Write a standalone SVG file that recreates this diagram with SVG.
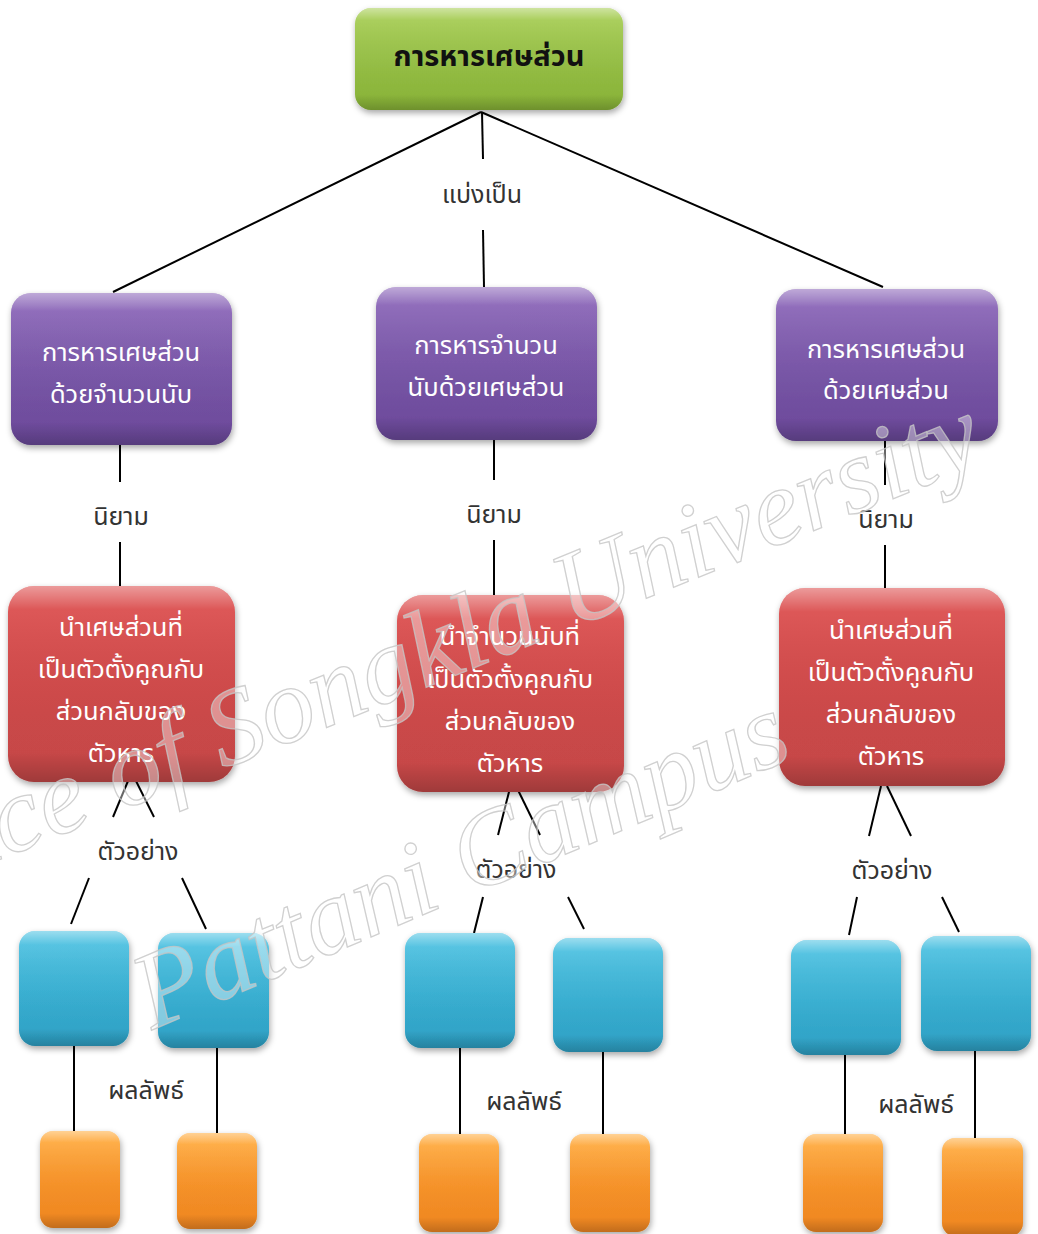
<svg xmlns="http://www.w3.org/2000/svg" width="1038" height="1234" viewBox="0 0 1038 1234">
  <defs>
    <linearGradient id="gGreen" x1="0" y1="0" x2="0" y2="1">
      <stop offset="0" stop-color="#a6cd52"/>
      <stop offset="0.5" stop-color="#98c246"/>
      <stop offset="1" stop-color="#86b036"/>
    </linearGradient>
    <linearGradient id="gPurple" x1="0" y1="0" x2="0" y2="1">
      <stop offset="0" stop-color="#8a64b8"/>
      <stop offset="0.5" stop-color="#7a57aa"/>
      <stop offset="1" stop-color="#6a4898"/>
    </linearGradient>
    <linearGradient id="gRed" x1="0" y1="0" x2="0" y2="1">
      <stop offset="0" stop-color="#dc4848"/>
      <stop offset="0.5" stop-color="#d24a4a"/>
      <stop offset="1" stop-color="#c24646"/>
    </linearGradient>
    <linearGradient id="gBlue" x1="0" y1="0" x2="0" y2="1">
      <stop offset="0" stop-color="#4cc2e2"/>
      <stop offset="0.5" stop-color="#3ab3d6"/>
      <stop offset="1" stop-color="#2d9ec2"/>
    </linearGradient>
    <linearGradient id="gOrange" x1="0" y1="0" x2="0" y2="1">
      <stop offset="0" stop-color="#ffac3e"/>
      <stop offset="0.5" stop-color="#fb9529"/>
      <stop offset="1" stop-color="#ec8420"/>
    </linearGradient>
    <linearGradient id="gShine" x1="0" y1="0" x2="0" y2="1">
      <stop offset="0" stop-color="#ffffff" stop-opacity="0.45"/>
      <stop offset="0.12" stop-color="#ffffff" stop-opacity="0.08"/>
      <stop offset="0.85" stop-color="#000000" stop-opacity="0"/>
      <stop offset="1" stop-color="#000000" stop-opacity="0.18"/>
    </linearGradient>
    <filter id="shadow" x="-10%" y="-10%" width="125%" height="130%">
      <feDropShadow dx="1" dy="3" stdDeviation="3" flood-color="#000" flood-opacity="0.35"/>
    </filter>
  </defs>
  <style>
    .box { filter: url(#shadow); }
    .shine { fill: url(#gShine); }
    .conn line { stroke: #000; stroke-width: 2; }
    .lbl { font-family: "Noto Sans Thai", "Noto Sans", "DejaVu Sans", sans-serif; font-size: 25px; fill: #333; text-anchor: middle; }
    .wt { font-family: "Noto Sans Thai", "Noto Sans", "DejaVu Sans", sans-serif; font-size: 25.5px; fill: #fff; text-anchor: middle; }
    .title { font-family: "Noto Sans Thai", "Noto Sans", "DejaVu Sans", sans-serif; font-size: 29px; font-weight: bold; fill: #111; text-anchor: middle; }
    .wm { font-family: "Liberation Serif", serif; font-style: italic; font-size: 108px; fill: #fff; fill-opacity: 0.4; stroke: #c4c4c4; stroke-width: 1.3; stroke-opacity: 0.8; }
  </style>

  <rect width="1038" height="1234" fill="#ffffff"/>

  <!-- connectors -->
  <g id="connectors" class="conn">
    <line x1="481" y1="112" x2="113" y2="292"/>
    <line x1="481" y1="112" x2="883" y2="287"/>
    <line x1="482" y1="112" x2="483" y2="159"/>
    <line x1="483" y1="230" x2="484" y2="287"/>

    <line x1="120" y1="445" x2="120" y2="482"/>
    <line x1="120" y1="542" x2="120" y2="587"/>
    <line x1="494" y1="440" x2="494" y2="480"/>
    <line x1="494" y1="540" x2="494" y2="595"/>
    <line x1="885" y1="441" x2="885" y2="485"/>
    <line x1="885" y1="545" x2="885" y2="589"/>

    <line x1="128" y1="781" x2="113" y2="817"/>
    <line x1="136" y1="781" x2="154" y2="817"/>
    <line x1="89" y1="878" x2="71" y2="924"/>
    <line x1="182" y1="878" x2="206" y2="929"/>

    <line x1="510" y1="788" x2="498" y2="835"/>
    <line x1="517" y1="788" x2="540" y2="835"/>
    <line x1="483" y1="897" x2="474" y2="933"/>
    <line x1="568" y1="897" x2="584" y2="929"/>

    <line x1="881" y1="786" x2="869" y2="836"/>
    <line x1="887" y1="786" x2="911" y2="836"/>
    <line x1="857" y1="897" x2="849" y2="935"/>
    <line x1="942" y1="897" x2="959" y2="932"/>

    <line x1="74" y1="1046" x2="74" y2="1131"/>
    <line x1="217" y1="1048" x2="217" y2="1133"/>
    <line x1="460" y1="1048" x2="460" y2="1134"/>
    <line x1="603" y1="1052" x2="603" y2="1134"/>
    <line x1="845" y1="1055" x2="845" y2="1134"/>
    <line x1="975" y1="1051" x2="975" y2="1138"/>
  </g>

  <!-- connector labels -->
  <g id="labels">
    <text class="lbl" x="482" y="203">แบ่งเป็น</text>
    <text class="lbl" x="121" y="525">นิยาม</text>
    <text class="lbl" x="494" y="523">นิยาม</text>
    <text class="lbl" x="886" y="528">นิยาม</text>
    <text class="lbl" x="138" y="860">ตัวอย่าง</text>
    <text class="lbl" x="516" y="878">ตัวอย่าง</text>
    <text class="lbl" x="892" y="879">ตัวอย่าง</text>
    <text class="lbl" x="146" y="1099">ผลลัพธ์</text>
    <text class="lbl" x="524" y="1110">ผลลัพธ์</text>
    <text class="lbl" x="916" y="1113">ผลลัพธ์</text>
  </g>

  <!-- root -->
  <g id="root">
    <rect class="box" x="355" y="8" width="268" height="102" rx="16" fill="url(#gGreen)"/>
    <rect class="shine" x="355" y="8" width="268" height="102" rx="16"/>
    <text class="title" x="489" y="66">การหารเศษส่วน</text>
  </g>

  <!-- second level -->
  <g id="div-frac-by-whole">
    <rect class="box" x="11" y="293" width="221" height="152" rx="20" fill="url(#gPurple)"/>
    <rect class="shine" x="11" y="293" width="221" height="152" rx="20"/>
    <text class="wt" x="121" y="361">การหารเศษส่วน</text>
    <text class="wt" x="121" y="403">ด้วยจำนวนนับ</text>
  </g>
  <g id="div-whole-by-frac">
    <rect class="box" x="376" y="287" width="221" height="153" rx="20" fill="url(#gPurple)"/>
    <rect class="shine" x="376" y="287" width="221" height="153" rx="20"/>
    <text class="wt" x="486" y="354">การหารจำนวน</text>
    <text class="wt" x="486" y="396">นับด้วยเศษส่วน</text>
  </g>
  <g id="div-frac-by-frac">
    <rect class="box" x="776" y="289" width="222" height="152" rx="20" fill="url(#gPurple)"/>
    <rect class="shine" x="776" y="289" width="222" height="152" rx="20"/>
    <text class="wt" x="886" y="358">การหารเศษส่วน</text>
    <text class="wt" x="886" y="399">ด้วยเศษส่วน</text>
  </g>

  <!-- definitions -->
  <g id="def-left">
    <rect class="box" x="8" y="586" width="227" height="196" rx="26" fill="url(#gRed)"/>
    <rect class="shine" x="8" y="586" width="227" height="196" rx="26"/>
    <text class="wt" x="121" y="636">นำเศษส่วนที่</text>
    <text class="wt" x="121" y="678">เป็นตัวตั้งคูณกับ</text>
    <text class="wt" x="121" y="720">ส่วนกลับของ</text>
    <text class="wt" x="121" y="762">ตัวหาร</text>
  </g>
  <g id="def-middle">
    <rect class="box" x="397" y="595" width="227" height="197" rx="26" fill="url(#gRed)"/>
    <rect class="shine" x="397" y="595" width="227" height="197" rx="26"/>
    <text class="wt" x="510" y="645">นำจำนวนนับที่</text>
    <text class="wt" x="510" y="688">เป็นตัวตั้งคูณกับ</text>
    <text class="wt" x="510" y="730">ส่วนกลับของ</text>
    <text class="wt" x="510" y="772">ตัวหาร</text>
  </g>
  <g id="def-right">
    <rect class="box" x="779" y="588" width="226" height="198" rx="26" fill="url(#gRed)"/>
    <rect class="shine" x="779" y="588" width="226" height="198" rx="26"/>
    <text class="wt" x="891" y="639">นำเศษส่วนที่</text>
    <text class="wt" x="891" y="681">เป็นตัวตั้งคูณกับ</text>
    <text class="wt" x="891" y="723">ส่วนกลับของ</text>
    <text class="wt" x="891" y="765">ตัวหาร</text>
  </g>

  <!-- examples -->
  <g id="ex-l1"><rect class="box" x="19" y="931" width="110" height="115" rx="16" fill="url(#gBlue)"/><rect class="shine" x="19" y="931" width="110" height="115" rx="16"/></g>
  <g id="ex-l2"><rect class="box" x="158" y="933" width="111" height="115" rx="16" fill="url(#gBlue)"/><rect class="shine" x="158" y="933" width="111" height="115" rx="16"/></g>
  <g id="ex-m1"><rect class="box" x="405" y="933" width="110" height="115" rx="16" fill="url(#gBlue)"/><rect class="shine" x="405" y="933" width="110" height="115" rx="16"/></g>
  <g id="ex-m2"><rect class="box" x="553" y="938" width="110" height="114" rx="16" fill="url(#gBlue)"/><rect class="shine" x="553" y="938" width="110" height="114" rx="16"/></g>
  <g id="ex-r1"><rect class="box" x="791" y="940" width="110" height="115" rx="16" fill="url(#gBlue)"/><rect class="shine" x="791" y="940" width="110" height="115" rx="16"/></g>
  <g id="ex-r2"><rect class="box" x="921" y="936" width="110" height="115" rx="16" fill="url(#gBlue)"/><rect class="shine" x="921" y="936" width="110" height="115" rx="16"/></g>

  <!-- results -->
  <g id="res-l1"><rect class="box" x="40" y="1131" width="80" height="97" rx="13" fill="url(#gOrange)"/><rect class="shine" x="40" y="1131" width="80" height="97" rx="13"/></g>
  <g id="res-l2"><rect class="box" x="177" y="1133" width="80" height="96" rx="13" fill="url(#gOrange)"/><rect class="shine" x="177" y="1133" width="80" height="96" rx="13"/></g>
  <g id="res-m1"><rect class="box" x="419" y="1134" width="80" height="98" rx="13" fill="url(#gOrange)"/><rect class="shine" x="419" y="1134" width="80" height="98" rx="13"/></g>
  <g id="res-m2"><rect class="box" x="570" y="1134" width="80" height="98" rx="13" fill="url(#gOrange)"/><rect class="shine" x="570" y="1134" width="80" height="98" rx="13"/></g>
  <g id="res-r1"><rect class="box" x="803" y="1134" width="80" height="98" rx="13" fill="url(#gOrange)"/><rect class="shine" x="803" y="1134" width="80" height="98" rx="13"/></g>
  <g id="res-r2"><rect class="box" x="942" y="1138" width="81" height="98" rx="13" fill="url(#gOrange)"/><rect class="shine" x="942" y="1138" width="81" height="98" rx="13"/></g>

  <!-- watermark -->
  <g id="watermark">
    <text class="wm" x="-172" y="929" transform="rotate(-22 -172 929)">Prince of Songkla University</text>
    <text class="wm" x="152" y="1030" transform="rotate(-23 152 1030)">Pattani Campus</text>
  </g>
</svg>
